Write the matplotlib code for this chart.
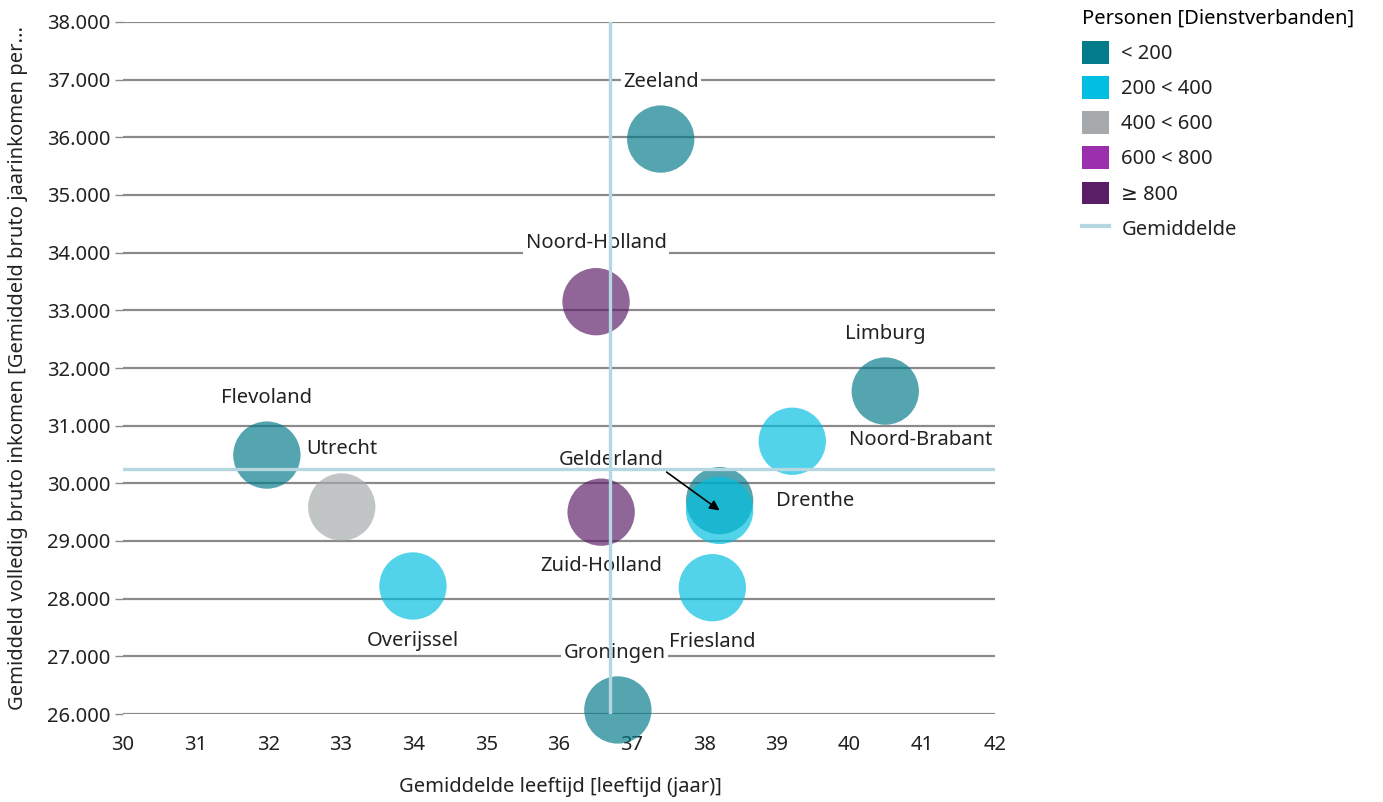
import matplotlib
matplotlib.use("Agg")
import matplotlib.pyplot as plt
from matplotlib.patches import Patch
from matplotlib.lines import Line2D
from matplotlib.ticker import FuncFormatter

plt.rcParams['font.family'] = ['Noto Sans', 'DejaVu Sans']

# data
provinces = ["Zeeland", "Noord-Holland", "Limburg", "Noord-Brabant", "Flevoland", "Utrecht",
             "Drenthe", "Gelderland", "Zuid-Holland", "Overijssel", "Friesland", "Groningen"]
age = [37.40, 36.51, 40.49, 39.21, 31.98, 33.01, 38.21, 38.21, 36.58, 33.99, 38.11, 36.81]
income = [35970, 33150, 31600, 30730, 30490, 29590, 29700, 29530, 29500, 28220, 28190, 26070]
group = [0, 4, 0, 1, 0, 2, 0, 1, 4, 1, 1, 0]

group_labels = ["< 200", "200 < 400", "400 < 600", "600 < 800", "\u2265 800"]
group_colors = ["#037B8B", "#00BFE0", "#A6AAAC", "#9B2FAE", "#5A1E66"]

mean_age = 36.70
mean_income = 30250

FS = 14.5
TXT = "#222222"

# label offsets in pixels (dx, dy)
offsets = {
    "Zeeland": (0, 57), "Noord-Holland": (0, 59), "Limburg": (0, 57),
    "Noord-Brabant": (128, 1), "Flevoland": (0, 57), "Utrecht": (0, 58),
    "Drenthe": (96, 0), "Gelderland": (-108, 50), "Zuid-Holland": (0, -54),
    "Overijssel": (0, -55), "Friesland": (0, -54), "Groningen": (-3, 57),
}

fig = plt.figure(figsize=(13.83, 8.02), dpi=100)
ax = fig.add_axes([123/1383, 1 - 714/802, (995-123)/1383, (714-22)/802])

ax.set_xlim(30, 42)
ax.set_ylim(26000, 38000)

for yv in range(26000, 38001, 1000):
    ax.axhline(yv, color="#8A8A8A", lw=1.6, zorder=1)

cols = [group_colors[g] for g in group]
ax.scatter(age, income, s=2350, c=cols, alpha=0.68, edgecolors="none", zorder=2, clip_on=False)

for name, x, y in zip(provinces, age, income):
    dx, dy = offsets[name]
    box = dict(boxstyle="square,pad=0.12", fc="white", ec="none")
    if name == "Gelderland":
        ax.annotate(name, (x, y), xytext=(dx, dy), textcoords="offset pixels",
                    ha="center", va="center", fontsize=FS, color=TXT, bbox=box, zorder=3,
                    arrowprops=dict(arrowstyle="-|>", color="black", lw=1.2, shrinkA=0, shrinkB=0,
                                    relpos=(0.95, 0.2)))
    else:
        ax.annotate(name, (x, y), xytext=(dx, dy), textcoords="offset pixels",
                    ha="center", va="center", fontsize=FS, color=TXT, bbox=box, zorder=3)

ax.axvline(mean_age, color="#B4D7E1", lw=2.4, zorder=4)
ax.axhline(mean_income, color="#B4D7E1", lw=2.4, zorder=4)

for s in ax.spines.values():
    s.set_visible(False)
ax.set_xticks(range(30, 43))
ax.set_yticks(range(26000, 38001, 1000))
ax.yaxis.set_major_formatter(FuncFormatter(lambda v, p: f"{v/1000:.3f}"))
ax.tick_params(axis="x", length=0, pad=15, labelsize=FS, labelcolor=TXT)
ax.tick_params(axis="y", length=6, width=1, color="#8A8A8A", pad=3, labelsize=FS, labelcolor=TXT)

fig.text(560/1383, 1 - 787/802, "Gemiddelde leeftijd [leeftijd (jaar)]", ha="center", va="center",
         fontsize=FS, color=TXT)
fig.text(18/1383, 1 - 368/802, "Gemiddeld volledig bruto inkomen [Gemiddeld bruto jaarinkomen per...",
         ha="center", va="center", rotation=90, fontsize=FS, color=TXT)

handles = [Patch(facecolor=c, edgecolor="none", label=l) for c, l in zip(group_colors, group_labels)]
handles.append(Line2D([0], [0], color="#B4D7E1", lw=3, label="Gemiddelde"))
leg = fig.legend(handles=handles, title="Personen [Dienstverbanden]", loc="upper left",
                 bbox_to_anchor=(1080/1383, 1 - 7/802), frameon=False, fontsize=FS,
                 title_fontsize=FS, handlelength=1.35, handleheight=1.35, labelspacing=0.6,
                 handletextpad=0.6, alignment="left", borderpad=0.1, borderaxespad=0)
for t in leg.get_texts():
    t.set_color(TXT)

fig.savefig("out.png", dpi=100)
